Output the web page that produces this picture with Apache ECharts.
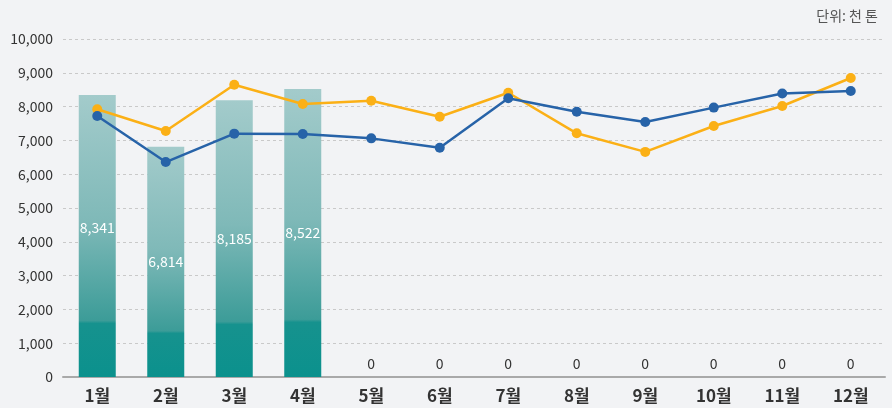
<!DOCTYPE html>
<html>
<head>
<meta charset="utf-8">
<script src="https://cdn.jsdelivr.net/npm/echarts@6/dist/echarts.min.js"></script>
<style>
  html, body { margin: 0; padding: 0; background: #f2f3f5; }
  #chart { width: 892px; height: 408px; }
</style>
</head>
<body>
<div id="chart"></div>
<script>
// Monthly volume (thousand tonnes)
const months = ['1월', '2월', '3월', '4월', '5월', '6월', '7월', '8월', '9월', '10월', '11월', '12월'];
const barValues = [8341, 6814, 8185, 8522, 0, 0, 0, 0, 0, 0, 0, 0];
const blueLine = [7720, 6360, 7200, 7190, 7060, 6785, 8245, 7850, 7545, 7970, 8390, 8460];
const orangeLine = [7920, 7278, 8648, 8077, 8175, 7700, 8410, 7210, 6660, 7425, 8018, 8846];
const yTicks = { min: 0, max: 10000, interval: 1000 };

const FONT = '"Noto Sans CJK KR", "Noto Sans", sans-serif';

const barData = barValues.map((v, i) => {
  if (v === 0) {
    return { value: v, label: { position: 'top', distance: 6, color: '#333', fontSize: 14 } };
  }
  if (i === 0) {
    return { value: v, label: { offset: [0, -8] } };
  }
  return { value: v };
});

const chart = echarts.init(document.getElementById('chart'));
chart.setOption({
  backgroundColor: '#f2f3f5',
  animation: false,
  textStyle: { fontFamily: FONT },
  title: {
    text: '단위: 천 톤',
    right: 9,
    top: 4,
    textStyle: { fontFamily: FONT, fontSize: 14, fontWeight: 'normal', color: '#555' }
  },
  grid: { left: 63, right: 7, top: 39, bottom: 31 },
  xAxis: {
    type: 'category',
    data: months,
    axisTick: { show: false },
    axisLine: { lineStyle: { color: '#a9a9a9', width: 2 } },
    axisLabel: { color: '#333', fontSize: 17, fontWeight: 'bold', margin: 10, fontFamily: FONT }
  },
  yAxis: {
    type: 'value',
    min: yTicks.min,
    max: yTicks.max,
    interval: yTicks.interval,
    axisLine: { show: false },
    axisTick: { show: false },
    axisLabel: {
      color: '#333', fontSize: 14, margin: 10, fontFamily: FONT,
      formatter: v => v.toLocaleString('en-US')
    },
    splitLine: { lineStyle: { color: '#c9c9c9', type: [3, 3], width: 1 } }
  },
  series: [
    {
      type: 'bar',
      data: barData,
      barWidth: 37,
      itemStyle: {
        color: new echarts.graphic.LinearGradient(0, 0, 0, 1, [
          { offset: 0, color: '#a3cbcb' },
          { offset: 0.45, color: '#7fb9b8' },
          { offset: 0.8, color: '#3c9c98' },
          { offset: 0.81, color: '#16928e' },
          { offset: 1, color: '#0b918d' }
        ])
      },
      label: {
        show: true,
        position: 'inside',
        color: '#fff',
        fontSize: 14,
        fontFamily: FONT,
        formatter: p => p.value.toLocaleString('en-US')
      },
      z: 1
    },
    {
      type: 'line',
      data: orangeLine,
      symbol: 'circle',
      symbolSize: 10,
      lineStyle: { color: '#fbb016', width: 2.5 },
      itemStyle: { color: '#fbb016' },
      z: 3
    },
    {
      type: 'line',
      data: blueLine,
      symbol: 'circle',
      symbolSize: 10,
      lineStyle: { color: '#2763a8', width: 2.5 },
      itemStyle: { color: '#2763a8' },
      z: 4
    }
  ]
});
</script>
</body>
</html>
